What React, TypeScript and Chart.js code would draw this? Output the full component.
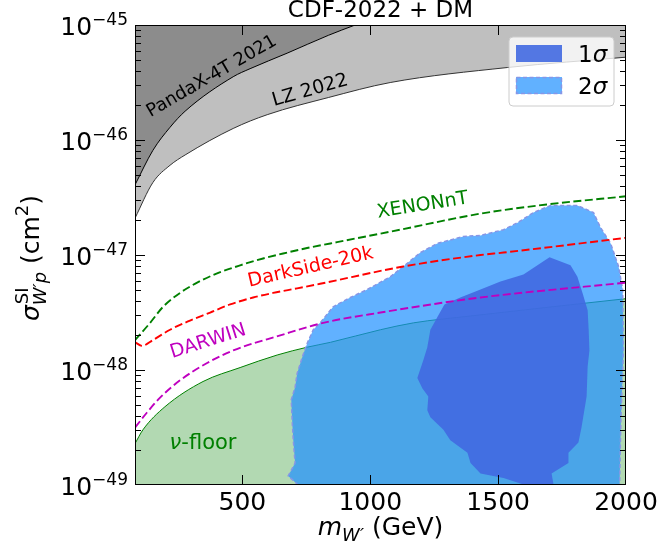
import React, { useEffect, useRef } from 'react';
import { Chart, registerables } from 'chart.js';

Chart.register(...registerables);

const FONT = '"DejaVu Sans", "Liberation Sans", sans-serif';

// ---------------- data (x: m_W' in GeV, y: sigma in cm^2) ----------------
const lzX = [80, 150, 217, 276, 464, 597, 836, 1078, 1537, 2000];
const lzY = [2.09e-47, 4.27e-47, 6.03e-47, 7.41e-47, 1.26e-46, 1.66e-46, 2.34e-46, 3.16e-46, 4.27e-46, 5.25e-46];

const pandaX = [80, 150, 217, 276, 464, 530, 675, 836, 941, 1040];
const pandaY = [4.07e-47, 8.13e-47, 1.29e-46, 1.78e-46, 3.55e-46, 4.17e-46, 5.69e-46, 8.13e-46, 1.0e-45, 1.2e-45];

const xenonX = [80, 139, 190, 256, 323, 401, 491, 581, 675, 753, 844, 1117, 1431, 1690, 2000];
const xenonY = [1.82e-48, 2.57e-48, 3.55e-48, 4.68e-48, 5.75e-48, 6.92e-48, 8.13e-48, 9.33e-48, 1.05e-47, 1.15e-47, 1.26e-47, 1.66e-47, 2.29e-47, 2.75e-47, 3.24e-47];

const darksideX = [80, 107, 150, 217, 295, 374, 452, 542, 620, 714, 804, 1129, 1431, 1521, 2000];
const darksideY = [1.75e-48, 1.62e-48, 1.82e-48, 2.24e-48, 2.69e-48, 3.16e-48, 3.72e-48, 4.27e-48, 4.68e-48, 5.13e-48, 5.62e-48, 7.94e-48, 1.0e-47, 1.05e-47, 1.41e-47];

const darwinX = [80, 127, 178, 256, 362, 464, 648, 816, 1040, 1431, 2000];
const darwinY = [3.16e-49, 4.27e-49, 5.75e-49, 8.13e-49, 1.15e-48, 1.48e-48, 2.0e-48, 2.57e-48, 3.16e-48, 4.27e-48, 5.75e-48];

const nuFloorX = [80, 111, 197, 346, 491, 636, 754, 844, 1040, 1169, 1392, 2000];
const nuFloorY = [2.29e-49, 3.02e-49, 4.79e-49, 7.94e-49, 1.05e-48, 1.35e-48, 1.58e-48, 1.74e-48, 2.24e-48, 2.57e-48, 2.95e-48, 4.17e-48];

// 2 sigma contour (closed region)
const sigma2X = [718, 679, 706, 699, 695, 691, 706, 714, 734, 753, 777, 804, 855, 922, 988, 1078, 1129, 1196, 1262, 1364, 1431, 1521, 1576, 1638, 1705, 1810, 1873, 1900, 1940, 1971, 1987, 1990, 1980, 1975];
const sigma2Y = [1.0e-49, 1.2e-49, 1.55e-49, 2.45e-49, 3.47e-49, 5.5e-49, 7.08e-49, 9.33e-49, 1.29e-48, 1.7e-48, 2.24e-48, 2.57e-48, 3.55e-48, 4.27e-48, 5.01e-48, 6.46e-48, 7.94e-48, 1.05e-47, 1.26e-47, 1.45e-47, 1.48e-47, 1.66e-47, 1.91e-47, 2.34e-47, 2.69e-47, 2.69e-47, 2.34e-47, 1.74e-47, 1.26e-47, 7.94e-48, 5.01e-48, 1.48e-48, 3.72e-49, 1.0e-49];

// 1 sigma contour (closed region)
const sigma1X = [1701, 1783, 1810, 1830, 1850, 1854, 1857, 1850, 1846, 1826, 1814, 1775, 1775, 1709, 1717, 1605, 1521, 1431, 1392, 1380, 1313, 1286, 1235, 1223, 1227, 1204, 1184, 1208, 1223, 1235, 1262, 1290, 1352, 1431, 1509, 1599];
const sigma1Y = [9.55e-48, 8.13e-48, 6.46e-48, 4.68e-48, 3.31e-48, 2.24e-48, 1.48e-48, 1.07e-48, 5.89e-49, 3.16e-49, 2.34e-49, 1.91e-49, 1.55e-49, 1.26e-49, 1.0e-49, 1.0e-49, 1.15e-49, 1.26e-49, 1.55e-49, 1.91e-49, 2.45e-49, 3.02e-49, 3.89e-49, 4.47e-49, 5.89e-49, 6.92e-49, 8.51e-49, 1.23e-48, 1.58e-48, 2.24e-48, 2.88e-48, 3.72e-48, 4.27e-48, 5.01e-48, 5.89e-48, 6.76e-48];

// ticks
const xTickValues = [500, 1000, 1500, 2000];
const xTickLabels = ['500', '1000', '1500', '2000'];
const yDecadeValues = [1e-49, 1e-48, 1e-47, 1e-46, 1e-45];
const yDecadeExponents = ['\u221249', '\u221248', '\u221247', '\u221246', '\u221245'];
const yMinorMultipliers = [2, 3, 4, 5, 6, 7, 8, 9];

// in-plot annotations (anchored in data coordinates)
const annTexts = ['PandaX-4T 2021', 'LZ 2022', 'XENONnT', 'DarkSide-20k', 'DARWIN'];
const annX = [380, 765, 1205, 767, 366];
const annY = [3.56e-46, 2.69e-46, 2.69e-47, 7.78e-48, 1.77e-48];
const annAngle = [-30, -16, -9, -13, -17.5];
const annColor = ['#000000', '#000000', '#008000', '#ff0000', '#bf00bf'];
const annSize = [18, 19, 19, 19, 19];
const nuFloorLabelX = 346;
const nuFloorLabelY = 2.42e-49;

const titleText = 'CDF-2022 + DM';
const legendLabels = ['1', '2'];

function pts(xs: number[], ys: number[]) {
  return xs.map((x, i) => ({ x, y: ys[i] }));
}

type Run = { t: string; f: string; dy?: number };

function runsWidth(ctx: CanvasRenderingContext2D, runs: Run[]) {
  let w = 0;
  for (const r of runs) {
    ctx.font = r.f;
    w += ctx.measureText(r.t).width;
  }
  return w;
}

function drawRuns(ctx: CanvasRenderingContext2D, runs: Run[], x: number, y: number) {
  let cx = x;
  for (const r of runs) {
    ctx.font = r.f;
    ctx.fillText(r.t, cx, y + (r.dy || 0));
    cx += ctx.measureText(r.t).width;
  }
  return cx;
}

const decor = {
  id: 'decor',
  afterDatasetsDraw(chart: any) {
    const { ctx, chartArea: a, scales } = chart;
    const xs = scales.x;
    const ys = scales.y;
    ctx.save();

    // annotations along the curves
    ctx.textAlign = 'center';
    ctx.textBaseline = 'middle';
    for (let i = 0; i < annTexts.length; i++) {
      const px = xs.getPixelForValue(annX[i]);
      const py = ys.getPixelForValue(annY[i]);
      ctx.save();
      ctx.translate(px, py);
      ctx.rotate((annAngle[i] * Math.PI) / 180);
      ctx.fillStyle = annColor[i];
      ctx.font = `${annSize[i]}px ${FONT}`;
      ctx.fillText(annTexts[i], 0, 0);
      ctx.restore();
    }
    // nu-floor label
    {
      const px = xs.getPixelForValue(nuFloorLabelX);
      const py = ys.getPixelForValue(nuFloorLabelY);
      const runs: Run[] = [
        { t: '\u03bd', f: `italic 21px ${FONT}` },
        { t: '-floor', f: `21px ${FONT}` },
      ];
      ctx.textAlign = 'left';
      ctx.textBaseline = 'alphabetic';
      ctx.fillStyle = '#008000';
      const w = runsWidth(ctx, runs);
      drawRuns(ctx, runs, px - w / 2, py + 8);
    }

    // ticks (inward, all four sides)
    ctx.strokeStyle = '#000';
    ctx.lineWidth = 1;
    ctx.setLineDash([]);
    ctx.beginPath();
    for (const v of xTickValues) {
      const px = Math.round(xs.getPixelForValue(v)) + 0.5;
      if (px >= a.right - 1) continue;
      ctx.moveTo(px, a.bottom);
      ctx.lineTo(px, a.bottom - 10);
      ctx.moveTo(px, a.top);
      ctx.lineTo(px, a.top + 10);
    }
    for (let d = 0; d < yDecadeValues.length; d++) {
      const base = yDecadeValues[d];
      const py = Math.round(ys.getPixelForValue(base)) + 0.5;
      if (py > a.top + 1 && py < a.bottom - 1) {
        ctx.moveTo(a.left, py);
        ctx.lineTo(a.left + 10, py);
        ctx.moveTo(a.right, py);
        ctx.lineTo(a.right - 10, py);
      }
      if (d < yDecadeValues.length - 1) {
        for (const m of yMinorMultipliers) {
          const pm = Math.round(ys.getPixelForValue(base * m)) + 0.5;
          ctx.moveTo(a.left, pm);
          ctx.lineTo(a.left + 6, pm);
          ctx.moveTo(a.right, pm);
          ctx.lineTo(a.right - 6, pm);
        }
      }
    }
    ctx.stroke();

    // frame
    ctx.strokeRect(a.left + 0.5, a.top + 0.5, a.right - a.left - 1, a.bottom - a.top - 1);

    // legend
    const lx = a.right - 117;
    const ly = a.top + 12;
    const lw = 105;
    const lh = 69;
    const r = 4;
    ctx.beginPath();
    ctx.moveTo(lx + r, ly);
    ctx.lineTo(lx + lw - r, ly);
    ctx.quadraticCurveTo(lx + lw, ly, lx + lw, ly + r);
    ctx.lineTo(lx + lw, ly + lh - r);
    ctx.quadraticCurveTo(lx + lw, ly + lh, lx + lw - r, ly + lh);
    ctx.lineTo(lx + r, ly + lh);
    ctx.quadraticCurveTo(lx, ly + lh, lx, ly + lh - r);
    ctx.lineTo(lx, ly + r);
    ctx.quadraticCurveTo(lx, ly, lx + r, ly);
    ctx.closePath();
    ctx.fillStyle = 'rgba(255,255,255,0.8)';
    ctx.fill();
    ctx.strokeStyle = '#cccccc';
    ctx.lineWidth = 1;
    ctx.stroke();

    ctx.fillStyle = 'rgba(65,105,225,0.9)';
    ctx.fillRect(lx + 7, ly + 8, 46, 17);
    ctx.fillStyle = 'rgba(30,144,255,0.7)';
    ctx.fillRect(lx + 7, ly + 40, 46, 17);
    ctx.strokeStyle = '#8796e6';
    ctx.lineWidth = 1.5;
    ctx.setLineDash([4, 2.5]);
    ctx.strokeRect(lx + 7.5, ly + 40.5, 45, 16);
    ctx.setLineDash([]);

    ctx.fillStyle = '#000';
    ctx.textAlign = 'left';
    ctx.textBaseline = 'alphabetic';
    for (let i = 0; i < legendLabels.length; i++) {
      drawRuns(
        ctx,
        [
          { t: legendLabels[i], f: `23px ${FONT}` },
          { t: '\u03c3', f: `italic 23px ${FONT}` },
        ],
        lx + 69,
        ly + 25 + i * 32
      );
    }
    ctx.restore();
  },
  afterDraw(chart: any) {
    const { ctx, chartArea: a, scales } = chart;
    const xs = scales.x;
    const ys = scales.y;
    ctx.save();
    ctx.fillStyle = '#000';
    ctx.textBaseline = 'alphabetic';

    // title
    ctx.textAlign = 'center';
    ctx.font = `23px ${FONT}`;
    ctx.fillText(titleText, (a.left + a.right) / 2, a.top - 8);

    // x tick labels
    ctx.font = `25px ${FONT}`;
    for (let i = 0; i < xTickValues.length; i++) {
      ctx.fillText(xTickLabels[i], xs.getPixelForValue(xTickValues[i]), a.bottom + 25);
    }

    // y tick labels 10^{-n}
    ctx.textAlign = 'left';
    for (let i = 0; i < yDecadeValues.length; i++) {
      const py = ys.getPixelForValue(yDecadeValues[i]);
      const runs: Run[] = [
        { t: '10', f: `25px ${FONT}`, dy: 10 },
        { t: yDecadeExponents[i], f: `17px ${FONT}`, dy: 0 },
      ];
      const w = runsWidth(ctx, runs);
      drawRuns(ctx, runs, a.left - 7 - w, py);
    }

    // x axis label: m_{W'} (GeV)
    {
      const runs: Run[] = [
        { t: 'm', f: `italic 25px ${FONT}` },
        { t: 'W\u2032', f: `italic 18px ${FONT}`, dy: 6 },
        { t: ' (GeV)', f: `25px ${FONT}` },
      ];
      const w = runsWidth(ctx, runs);
      drawRuns(ctx, runs, (a.left + a.right) / 2 - w / 2, a.bottom + 50);
    }

    // y axis label: sigma^{SI}_{W'p} (cm^2)
    {
      ctx.save();
      const cy = (a.top + a.bottom) / 2 + 3;
      ctx.translate(39, cy);
      ctx.rotate(-Math.PI / 2);
      const fMain = `25px ${FONT}`;
      const fIt = `italic 25px ${FONT}`;
      const fSup = `18px ${FONT}`;
      const fSubIt = `italic 18px ${FONT}`;
      ctx.font = fIt;
      const wSigma = ctx.measureText('\u03c3').width;
      ctx.font = fSup;
      const wSup = ctx.measureText('SI').width;
      ctx.font = fSubIt;
      const wSub = ctx.measureText('W\u2032p').width;
      const wScript = Math.max(wSup, wSub);
      const tail: Run[] = [
        { t: ' (cm', f: fMain },
        { t: '2', f: fSup, dy: -11 },
        { t: ')', f: fMain },
      ];
      const wTail = runsWidth(ctx, tail);
      const total = wSigma + wScript + wTail;
      let x0 = -total / 2;
      ctx.font = fIt;
      ctx.fillText('\u03c3', x0, 0);
      x0 += wSigma;
      ctx.font = fSup;
      ctx.fillText('SI', x0 + 1, -11);
      ctx.font = fSubIt;
      ctx.fillText('W\u2032p', x0, 7);
      x0 += wScript;
      drawRuns(ctx, tail, x0, 0);
      ctx.restore();
    }
    ctx.restore();
  },
};

export default function App() {
  const ref = useRef<HTMLCanvasElement>(null);
  useEffect(() => {
    const canvas = ref.current;
    if (!canvas) return;
    const curve = (xs: number[], ys: number[], extra: any) => ({
      data: pts(xs, ys),
      showLine: true,
      pointRadius: 0,
      cubicInterpolationMode: 'monotone',
      ...extra,
    });
    const region = (xs: number[], ys: number[], extra: any) => ({
      data: pts(xs, ys),
      showLine: true,
      pointRadius: 0,
      tension: 0,
      ...extra,
    });
    const chart = new Chart(canvas, {
      type: 'scatter',
      data: {
        datasets: [
          curve(lzX, lzY, { label: 'LZ 2022', borderColor: '#333333', borderWidth: 1, backgroundColor: '#bfbfbf', fill: 'end', order: 10 }),
          curve(pandaX, pandaY, { label: 'PandaX-4T 2021', borderColor: '#000000', borderWidth: 1, backgroundColor: '#8c8c8c', fill: 'end', order: 9 }),
          curve(nuFloorX, nuFloorY, { label: 'nu-floor', borderColor: '#008000', borderWidth: 1, backgroundColor: 'rgba(0,128,0,0.3)', fill: 'start', order: 8 }),
          region(sigma2X, sigma2Y, { label: '2sigma', borderColor: '#8796e6', borderWidth: 1.5, borderDash: [4, 2.5], backgroundColor: 'rgba(30,144,255,0.7)', fill: 'shape', order: 7 }),
          region(sigma1X, sigma1Y, { label: '1sigma', borderColor: 'rgba(0,0,0,0)', borderWidth: 0, backgroundColor: 'rgba(65,105,225,0.9)', fill: 'shape', order: 6 }),
          curve(darwinX, darwinY, { label: 'DARWIN', borderColor: '#bf00bf', borderWidth: 1.9, borderDash: [8, 3.5], fill: false, order: 3 }),
          curve(darksideX, darksideY, { label: 'DarkSide-20k', borderColor: '#ff0000', borderWidth: 1.9, borderDash: [8, 3.5], fill: false, order: 2 }),
          curve(xenonX, xenonY, { label: 'XENONnT', borderColor: '#008000', borderWidth: 1.9, borderDash: [8, 3.5], fill: false, order: 1 }),
        ],
      },
      options: {
        animation: false,
        responsive: false,
        devicePixelRatio: 1,
        events: [],
        layout: { padding: { left: 135, top: 25, right: 34, bottom: 71 } },
        plugins: {
          legend: { display: false },
          tooltip: { enabled: false },
          title: { display: false },
        },
        scales: {
          x: { type: 'linear', min: 80, max: 2000, display: false },
          y: { type: 'logarithmic', min: 1e-49, max: 1e-45, display: false },
        },
      },
      plugins: [decor],
    } as any);
    return () => chart.destroy();
  }, []);
  return (
    <canvas
      ref={ref}
      width={660}
      height={556}
      style={{ position: 'fixed', left: 0, top: 0, width: 660, height: 556, display: 'block' }}
    />
  );
}
